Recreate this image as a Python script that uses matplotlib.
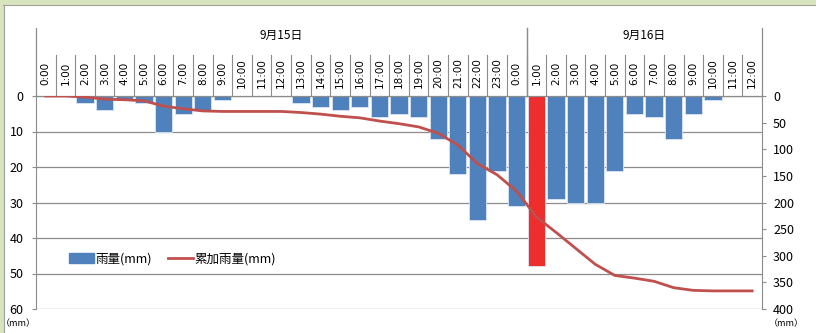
import matplotlib
matplotlib.use("Agg")
import matplotlib.pyplot as plt
import matplotlib.transforms as mtransforms
from matplotlib.patches import Rectangle
from matplotlib.lines import Line2D
import numpy as np

plt.rcParams['font.family'] = ['Noto Sans CJK JP', 'DejaVu Sans']

# data
hours = ["0:00", "1:00", "2:00", "3:00", "4:00", "5:00", "6:00", "7:00", "8:00", "9:00",
         "10:00", "11:00", "12:00", "13:00", "14:00", "15:00", "16:00", "17:00", "18:00",
         "19:00", "20:00", "21:00", "22:00", "23:00", "0:00",
         "1:00", "2:00", "3:00", "4:00", "5:00", "6:00", "7:00", "8:00", "9:00",
         "10:00", "11:00", "12:00"]
rain = [0, 0, 2, 4, 1, 2, 10, 5, 4, 1, 0, 0, 0, 2, 3, 4, 3, 6, 5,
        6, 12, 22, 35, 21, 31,
        48, 29, 30, 30, 21, 5, 6, 12, 5, 1, 0, 0]
dates = ["9月15日", "9月16日"]
date_span = [(0, 24), (25, 36)]
peak_idx = 25

cum = np.cumsum(rain)
x = np.arange(len(hours))

BLUE = "#4F81BD"
RED_BAR = "#EE2D2D"
LINE = "#C0504D"
GRID = "#8C8C8C"

W, H = 816, 333
fig = plt.figure(figsize=(W / 100, H / 100), dpi=100)

# excel-ish window border
fig.patches.append(Rectangle((0, 1 - 4 / H), 1, 4 / H, transform=fig.transFigure,
                             color="#D7E4BD", zorder=0))
fig.patches.append(Rectangle((0, 0), 3 / W, 1, transform=fig.transFigure,
                             color="#D7E4BD", zorder=0))
fig.lines.append(Line2D([3 / W, 1], [1 - 5 / H, 1 - 5 / H], transform=fig.transFigure,
                        color="#A0A0A0", lw=0.8))
fig.lines.append(Line2D([3.5 / W, 3.5 / W], [0, 1 - 5 / H], transform=fig.transFigure,
                        color="#A0A0A0", lw=0.8))

left, right, top, bottom = 36, 762, 96, 309
ax = fig.add_axes([left / W, 1 - bottom / H, (right - left) / W, (bottom - top) / H])

colors = [RED_BAR if i == peak_idx else BLUE for i in x]
ax.bar(x, rain, width=0.88, color=colors, edgecolor="#DCE6F2", linewidth=0.6, zorder=2)
ax.set_xlim(-0.5, len(hours) - 0.5)
ax.set_ylim(60, 0)
ax.set_yticks(np.arange(0, 61, 10))
ax.yaxis.grid(True, color=GRID, lw=0.9, zorder=0)
ax.set_axisbelow(True)
ax.set_xticks([])
for s in ["top", "bottom", "right"]:
    ax.spines[s].set_visible(False)
ax.spines["left"].set_color(GRID)
ax.tick_params(axis="y", length=3, color=GRID, labelsize=9, pad=6)

ax2 = ax.twinx()
ax2.plot(x, cum, color=LINE, lw=2.0, zorder=3)
ax2.set_ylim(400, 0)
ax2.set_yticks(np.arange(0, 401, 50))
for s in ["top", "bottom", "left"]:
    ax2.spines[s].set_visible(False)
ax2.spines["right"].set_color(GRID)
ax2.tick_params(axis="y", length=3, color=GRID, labelsize=9, pad=5)

# header with hour labels and dates
ph = bottom - top
trans = mtransforms.blended_transform_factory(ax.transData, ax.transAxes)
h_cell = 1 + (top - 55) / ph
h_date = 1 + (top - 28) / ph
for i, lab in enumerate(hours):
    ax.text(i, 1 + (top - 73) / ph, lab, transform=trans, rotation=90, ha="center",
            va="center", fontsize=7.5, family=["DejaVu Sans"], clip_on=False)
    if i > 0:
        ax.add_line(Line2D([i - 0.5, i - 0.5], [1, h_cell], transform=trans,
                           color=GRID, lw=0.8, clip_on=False))
for d, (a, b) in zip(dates, date_span):
    ax.text((a + b) / 2, 1 + (top - 35) / ph, d, transform=trans,
            ha="center", va="center", fontsize=8.5, clip_on=False)
    for xe in (a - 0.5, b + 0.5):
        ax.add_line(Line2D([xe, xe], [1, h_date], transform=trans,
                           color=GRID, lw=0.9, clip_on=False))
ax.add_line(Line2D([-0.5, len(hours) - 0.5], [1, 1], transform=trans,
                   color=GRID, lw=0.9, clip_on=False))

# legend
handles = [Rectangle((0, 0), 1, 1, color=BLUE), Line2D([0], [0], color=LINE, lw=2.0)]
ax2.legend(handles, ["雨量(mm)", "累加雨量(mm)"], loc="center left",
           bbox_to_anchor=(0.03, 0.235), ncol=2, frameon=False, fontsize=9,
           handlelength=2.0, handletextpad=0.1, columnspacing=1.3, handleheight=0.8)

fig.text(18 / W, 1 - 324 / H, "（mm）", ha="center", va="center", fontsize=6.5)
fig.text(786 / W, 1 - 324 / H, "（mm）", ha="center", va="center", fontsize=6.5)

fig.savefig("out.png", dpi=100)
